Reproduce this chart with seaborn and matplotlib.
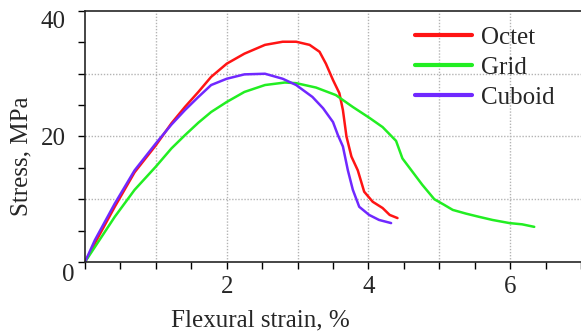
import pandas as pd
import matplotlib
matplotlib.use('Agg')
from matplotlib import pyplot as plt
from matplotlib.ticker import MultipleLocator, FixedLocator
import seaborn as sb

# stress-strain curves (strain %, stress MPa)
octet_strain = [0, 0.14, 0.42, 0.70, 1.0, 1.22, 1.41, 1.60, 1.78, 2.0, 2.25, 2.54, 2.79,
                2.98, 3.17, 3.31, 3.40, 3.50, 3.59, 3.64, 3.69, 3.76, 3.85, 3.94, 4.06,
                4.20, 4.30, 4.41]
octet_stress = [0, 3.0, 8.8, 14.3, 18.6, 22.1, 24.7, 27.1, 29.5, 31.6, 33.2, 34.6, 35.1,
                35.1, 34.6, 33.5, 31.6, 29.0, 26.9, 24.2, 20.0, 16.8, 14.6, 11.2, 9.6,
                8.6, 7.5, 7.0]

grid_strain = [0, 0.14, 0.42, 0.70, 1.0, 1.22, 1.41, 1.60, 1.78, 2.0, 2.25, 2.54, 2.82,
               2.98, 3.26, 3.54, 3.78, 4.01, 4.20, 4.39, 4.48, 4.62, 4.76, 4.93, 5.07,
               5.19, 5.38, 5.56, 5.75, 5.99, 6.17, 6.34]
grid_stress = [0, 2.4, 7.2, 11.5, 15.2, 18.1, 20.2, 22.2, 23.9, 25.5, 27.1, 28.2, 28.6,
               28.5, 27.8, 26.6, 24.7, 23.0, 21.5, 19.3, 16.5, 14.4, 12.3, 10.0, 9.1,
               8.3, 7.7, 7.2, 6.7, 6.2, 6.0, 5.6]

cuboid_strain = [0, 0.14, 0.42, 0.70, 1.0, 1.22, 1.41, 1.60, 1.78, 2.0, 2.25, 2.54, 2.79,
                 2.98, 3.21, 3.36, 3.50, 3.57, 3.64, 3.71, 3.78, 3.87, 4.01, 4.15, 4.32]
cuboid_stress = [0, 3.5, 9.3, 14.6, 18.9, 21.9, 24.2, 26.3, 28.2, 29.2, 29.9, 30.0, 29.2,
                 28.2, 26.3, 24.5, 22.3, 20.2, 18.4, 14.6, 11.5, 8.8, 7.5, 6.7, 6.2]

labels = ['Octet', 'Grid', 'Cuboid']
colors = ['#ff1414', '#22ee22', '#7028ff']

df = pd.concat([
    pd.DataFrame({'strain': octet_strain, 'stress': octet_stress, 'lattice': 'Octet'}),
    pd.DataFrame({'strain': grid_strain, 'stress': grid_stress, 'lattice': 'Grid'}),
    pd.DataFrame({'strain': cuboid_strain, 'stress': cuboid_stress, 'lattice': 'Cuboid'}),
], ignore_index=True)

sb.set_style('ticks')
plt.rcParams['font.family'] = ['Liberation Serif', 'DejaVu Serif']
plt.rcParams['font.size'] = 18

fig, ax = plt.subplots(figsize=(5.81, 3.31), dpi=100)
fig.subplots_adjust(left=0.1463, right=1.0, bottom=0.2085, top=0.9668)

sb.lineplot(data=df, x='strain', y='stress', hue='lattice', hue_order=labels,
            palette=colors, sort=False, estimator=None, lw=1.8, ax=ax)

ax.set_xlim(0, 7)
ax.set_ylim(0, 40)
ax.xaxis.set_major_locator(FixedLocator([2, 4, 6]))
ax.xaxis.set_minor_locator(MultipleLocator(0.5))
ax.yaxis.set_major_locator(FixedLocator([20, 40]))
ax.yaxis.set_minor_locator(MultipleLocator(5))
ax.tick_params(which='both', direction='out', length=5, width=1, labelsize=18,
               color='black')
ax.tick_params(axis='x', pad=5)
ax.tick_params(axis='y', pad=9)
fig.canvas.draw()
ax.get_yticklabels()[-1].set_va('top')

# dotted grid at every unit / 10 MPa
for gx in range(1, 7):
    ax.axvline(gx, color='#b4b4b4', lw=1.0, ls=(0, (1, 1.2)), zorder=0)
for gy in (10, 20, 30):
    ax.axhline(gy, color='#b4b4b4', lw=1.0, ls=(0, (1, 1.2)), zorder=0)

ax.text(-0.24, -2.1, '0', ha='center', va='center', fontsize=18, clip_on=False)

for s in ('left', 'bottom', 'top'):
    ax.spines[s].set_linewidth(1.2)
ax.spines['right'].set_visible(False)

ax.set_xlabel('Flexural strain, %', fontsize=18)
ax.set_ylabel('Stress, MPa', fontsize=18)
ax.xaxis.set_label_coords(0.353, -0.19)
ax.yaxis.set_label_coords(-0.105, 0.42)

leg = ax.legend(loc='upper left', bbox_to_anchor=(0.665, 0.94), frameon=False,
                handlelength=2.3, handletextpad=0.35, labelspacing=0.31,
                borderaxespad=0, borderpad=0, fontsize=18)
for line in leg.get_lines():
    line.set_linewidth(3)

plt.savefig('out.png', dpi=100)
